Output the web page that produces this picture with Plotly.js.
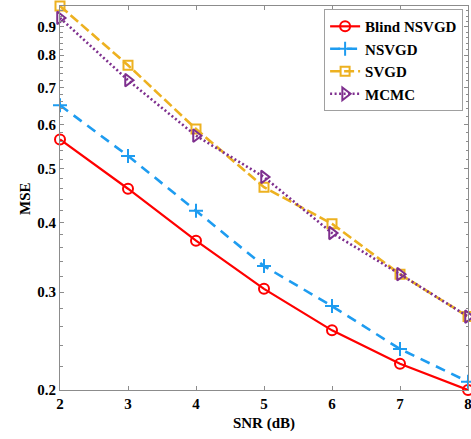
<!DOCTYPE html>
<html>
<head>
<meta charset="utf-8">
<script src="https://cdn.plot.ly/plotly-3.0.1.min.js"></script>
<style>
  html, body { margin: 0; padding: 0; background: #fff; }
  #chart { width: 471px; height: 439px; }
</style>
</head>
<body>
<div id="chart"></div>
<script>
// SNR sweep (dB) and the MSE reached by each estimator
const snr = [2, 3, 4, 5, 6, 7, 8];
const blindNSVGD = [0.564, 0.460, 0.371, 0.304, 0.256, 0.223, 0.200];
const nsvgd      = [0.650, 0.527, 0.420, 0.334, 0.283, 0.237, 0.207];
const svgd       = [0.980, 0.767, 0.589, 0.463, 0.398, 0.323, 0.271];
const mcmc       = [0.933, 0.721, 0.573, 0.483, 0.383, 0.323, 0.271];

const seriesNames = ['Blind NSVGD', 'NSVGD', 'SVGD', 'MCMC'];

// axis ticks
const xTicks = [2, 3, 4, 5, 6, 7, 8];
const yTicks = [0.2, 0.3, 0.4, 0.5, 0.6, 0.7, 0.8, 0.9];
const yTickText = ['0.2', '0.3', '0.4', '0.5', '0.6', '0.7', '0.8', '0.9'];
const yMinorTicks = [0.22, 0.24, 0.26, 0.28, 0.32, 0.34, 0.36, 0.38,
                     0.42, 0.44, 0.46, 0.48, 0.52, 0.54, 0.56, 0.58,
                     0.62, 0.64, 0.66, 0.68, 0.72, 0.74, 0.76, 0.78,
                     0.82, 0.84, 0.86, 0.88, 0.92, 0.94, 0.96];
const yRange = [0.2, 0.98];

const FONT = '"Liberation Serif", "Times New Roman", serif';
const AXIS_GREY = '#8c8c8c';

function trace(y, name, color, dash, symbol, size, width) {
  return {
    x: snr, y: y, name: name, type: 'scatter', mode: 'lines+markers',
    cliponaxis: false,
    line: { color: color, width: width, dash: dash },
    marker: { symbol: symbol, size: size, color: color,
              line: { color: color, width: 2 } }
  };
}

const data = [
  trace(blindNSVGD, seriesNames[0], '#ff0000', 'solid', 'circle-open', 10, 2.2),
  trace(nsvgd,      seriesNames[1], '#1e9cf0', '10px,7px', 'cross-thin-open', 10, 2.6),
  trace(svgd,       seriesNames[2], '#edb120', '10px,4px', 'square-open', 9, 2.6),
  trace(mcmc,       seriesNames[3], '#7e2f8e', '2px,2.5px', 'triangle-right-open', 11, 2.6)
];

const layout = {
  width: 471, height: 439,
  margin: { l: 60, r: 3, t: 6, b: 49 },
  paper_bgcolor: '#fff', plot_bgcolor: '#fff',
  font: { family: FONT, size: 15, color: '#000' },
  showlegend: true,
  legend: {
    x: 0.988, y: 0.992, xanchor: 'right', yanchor: 'top',
    bgcolor: '#fff', bordercolor: '#a0a0a0', borderwidth: 1,
    font: { family: FONT, size: 15, color: '#000', weight: 'bold' },
    itemwidth: 30,
    tracegroupgap: 0
  },
  xaxis: {
    range: [2, 8],
    tickvals: xTicks,
    ticks: 'inside', ticklen: 4, tickcolor: AXIS_GREY,
    ticklabeloverflow: 'allow',
    showline: true, linecolor: AXIS_GREY, linewidth: 1, mirror: 'ticks',
    showgrid: false, zeroline: false,
    tickfont: { family: FONT, size: 15, weight: 'bold' },
    title: { text: 'SNR (dB)', standoff: 6,
             font: { family: FONT, size: 15, weight: 'bold' } }
  },
  yaxis: {
    type: 'log',
    range: [Math.log10(yRange[0]), Math.log10(yRange[1])],
    tickvals: yTicks, ticktext: yTickText,
    ticks: 'inside', ticklen: 4, tickcolor: AXIS_GREY,
    minor: { tickvals: yMinorTicks, ticks: 'inside', ticklen: 2.5, tickcolor: AXIS_GREY },
    showline: true, linecolor: AXIS_GREY, linewidth: 1, mirror: 'ticks',
    showgrid: false, zeroline: false,
    tickfont: { family: FONT, size: 15, weight: 'bold' }
  },
  // y-axis label, set a little closer to the tick labels
  annotations: [{
    text: 'MSE', textangle: -90, showarrow: false,
    xref: 'paper', yref: 'paper', x: -0.086, y: 0.5,
    xanchor: 'center', yanchor: 'middle',
    font: { family: FONT, size: 15, weight: 'bold', color: '#000' }
  }]
};

Plotly.newPlot('chart', data, layout, { staticPlot: true, displayModeBar: false });
</script>
</body>
</html>
